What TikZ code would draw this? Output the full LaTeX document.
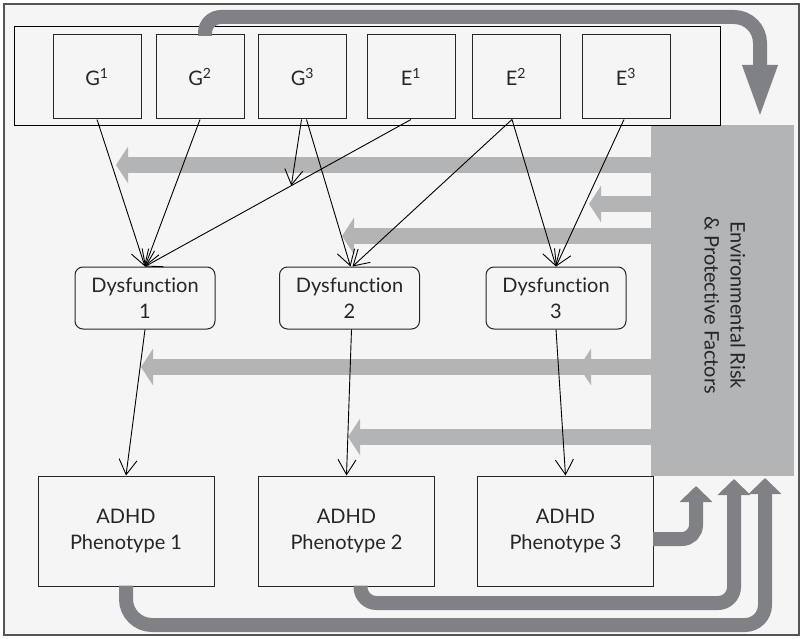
\documentclass[tikz,border=0pt]{standalone}
\usepackage{fontspec}
\setmainfont{Lato}[Ligatures=NoCommon]
\usetikzlibrary{arrows.meta,calc}
\definecolor{darkg}{RGB}{128,129,133}
\definecolor{lightg}{RGB}{179,180,182}
\definecolor{bgc}{RGB}{245,245,245}
\definecolor{framec}{RGB}{85,85,85}
\begin{document}
\begin{tikzpicture}[x=1pt,y=-1pt,
  font=\fontsize{20}{26}\selectfont,
  gebox/.style={draw=black!85, line width=1pt, minimum width=88pt, minimum height=84pt, inner sep=0pt, text=black!85},
  dysbox/.style={draw=black!85, line width=1pt, rounded corners=8pt, minimum width=140pt, minimum height=62pt, inner sep=0pt, align=center, text=black!85},
  phenbox/.style={draw=black!85, line width=1pt, minimum width=176pt, minimum height=110pt, inner sep=0pt, align=center, text=black!85},
  envbox/.style={fill=lightg, draw=none, minimum width=143pt, minimum height=350pt, inner sep=0pt},
  lgarrow/.style={draw=lightg, line width=16.5pt, -{Triangle[length=12pt,width=36pt]}},
  dgarrow/.style={draw=darkg, line width=14pt, -{Triangle[length=16pt,width=32pt]}},
  blk/.style={draw=black, line width=0.9pt, -{Straight Barb[length=15pt,width=18pt]}}
]
\useasboundingbox (0,0) rectangle (803,639);
% background frame
\path[fill=white] (0,0) rectangle (803,639);
\draw[fill=bgc, draw=framec, line width=1.3pt] (4,4) rectangle (799,635);

% environmental block
\node[envbox] (env) at (722.5,300.5) {};
\node[rotate=-90, align=center, text=black!85] (envtext) at (725,305) {Environmental Risk\\\& Protective Factors};

% top container
\node[draw=black, line width=1pt, minimum width=706pt, minimum height=99pt, inner sep=0pt] (top) at (367,76.5) {};

% G / E boxes
\node[gebox] (G1) at (97,77) {G\textsuperscript{1}};
\node[gebox] (G2) at (200,77) {G\textsuperscript{2}};
\node[gebox] (G3) at (302.5,77) {G\textsuperscript{3}};
\node[gebox] (E1) at (411,77) {E\textsuperscript{1}};
\node[gebox] (E2) at (516,77) {E\textsuperscript{2}};
\node[gebox] (E3) at (626,77) {E\textsuperscript{3}};

% dysfunction boxes
\node[dysbox] (D1) at (145,298) {Dysfunction\\1};
\node[dysbox] (D2) at (349.5,298) {Dysfunction\\2};
\node[dysbox] (D3) at (556,298) {Dysfunction\\3};

% phenotype boxes
\node[phenbox] (P1) at (126,531) {ADHD\\Phenotype 1};
\node[phenbox] (P2) at (346.5,531) {ADHD\\Phenotype 2};
\node[phenbox] (P3) at (565.5,531) {ADHD\\Phenotype 3};

% light gray arrows from the environment block
\coordinate (t1) at (116,165);
\coordinate (t2) at (589,204);
\coordinate (t3) at (342,236);
\coordinate (t4) at (141,367);
\coordinate (t4b) at (579,367);
\coordinate (t5) at (348,437);
\draw[lgarrow] (env.west |- t1) -- (t1);
\draw[lgarrow] (env.west |- t2) -- (t2);
\draw[lgarrow] (env.west |- t3) -- (t3);
\draw[lgarrow] (env.west |- t4) -- (t4);
\draw[lgarrow] (env.west |- t4b) -- (t4b);
\draw[lgarrow] (env.west |- t5) -- (t5);

% black arrows
\path (E1.south) -- (D1.north) coordinate[pos=0.45] (m1);
\draw[blk] (G1.south) -- (D1.north);
\draw[blk] (G2.south) -- (D1.north);
\draw[blk] (E1.south) -- (D1.north);
\draw[blk] ([xshift=-1pt]G3.south) -- (m1);
\draw[blk] ([xshift=4pt]G3.south) -- ([xshift=1pt]D2.north);
\draw[blk] ([xshift=-4pt]E2.south) -- ([xshift=3pt]D2.north);
\draw[blk] ([xshift=-4pt]E2.south) -- (D3.north);
\draw[blk] ([xshift=-2pt]E3.south) -- (D3.north);
\draw[blk] (D1.south) -- (P1.north);
\draw[blk] ([xshift=2pt]D2.south) -- (P2.north);
\draw[blk] (D3.south) -- (P3.north);

% dark gray feedback arrows
\coordinate (tt) at (760,120);
\draw[dgarrow, -{Triangle[length=55pt,width=31pt]}] (205,36) [rounded corners=16pt] -- (205,17) [rounded corners=26pt] -- (760,17) -- (tt);
\coordinate (r3) at (696,486);
\coordinate (r2) at (734,479);
\coordinate (r1) at (765,478);
\draw[dgarrow, rounded corners=14pt] ($(P3.east)+(-1,8)$) -- (696,539) -- (r3);
\draw[dgarrow, rounded corners=16pt] ($(P2.south)+(14,-1)$) -- (360.5,603) -- (734,603) -- (r2);
\draw[dgarrow] ($(P1.south)+(0,-1)$) [rounded corners=26pt] -- (126,625) [rounded corners=20pt] -- (765,625) -- (r1);
\end{tikzpicture}
\end{document}
